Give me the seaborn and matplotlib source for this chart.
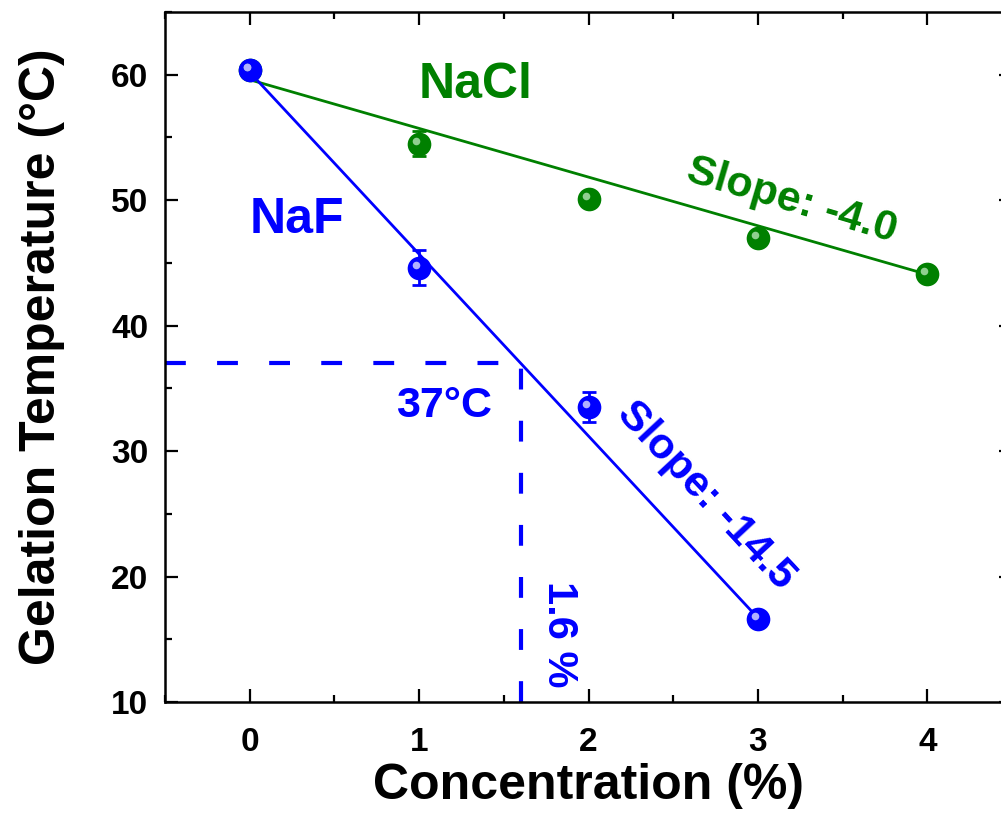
import numpy as np
import pandas as pd
import matplotlib
matplotlib.use("Agg")
import matplotlib.pyplot as plt
import matplotlib.transforms as mtransforms
from matplotlib.ticker import MultipleLocator
import seaborn as sns

# ---------------- data ----------------
naf_conc = [0, 1, 2, 3]
naf_temp = [60.4, 44.6, 33.5, 16.6]
naf_err = [0.3, 1.4, 1.2, 0.3]

nacl_conc = [0, 1, 2, 3, 4]
nacl_temp = [60.4, 54.5, 50.1, 47.0, 44.1]
nacl_err = [0.3, 1.0, 0.3, 0.3, 0.3]

naf_fit = (60.2, -14.5)     # intercept, slope
nacl_fit = (59.6, -3.88)

target_temp = 37.0
target_conc = 1.6

x_ticks = [0, 1, 2, 3, 4]
y_ticks = [10, 20, 30, 40, 50, 60]

BLUE = "#0000FF"
GREEN = "#008000"

# ---------------- style ----------------
sns.set_style("ticks")
plt.rcParams['font.family'] = ['Liberation Sans', 'DejaVu Sans']
plt.rcParams['font.weight'] = 'bold'
plt.rcParams['text.color'] = 'black'
plt.rcParams['axes.labelcolor'] = 'black'
plt.rcParams['xtick.color'] = 'black'
plt.rcParams['ytick.color'] = 'black'

fig = plt.figure(figsize=(10.01, 8.34), dpi=100)
ax = fig.add_axes([165/1001, 1 - 702/834, (1012 - 165)/1001, (702 - 12)/834])

# fit lines
for conc, fit, col in [(nacl_conc, nacl_fit, GREEN), (naf_conc, naf_fit, BLUE)]:
    xs = np.array([min(conc), max(conc)], dtype=float)
    df_fit = pd.DataFrame({"x": xs, "y": fit[0] + fit[1] * xs})
    sns.lineplot(data=df_fit, x="x", y="y", color=col, lw=2.0, ax=ax, zorder=2)

# dashed guide lines
sns.lineplot(x=[-0.5, target_conc], y=[target_temp, target_temp], color=BLUE,
             lw=3, ax=ax, zorder=1, dashes=False).lines[-1].set_dashes((5, 7.5))
sns.lineplot(x=[target_conc, target_conc], y=[10, target_temp], color=BLUE,
             lw=3, ax=ax, zorder=1, orient="y", dashes=False).lines[-1].set_dashes((5, 7.5))

# error bars + markers
hl_trans = mtransforms.offset_copy(ax.transData, fig=fig, x=-3, y=3, units='dots')
for conc, temp, err, col, light in [(nacl_conc, nacl_temp, nacl_err, GREEN, "#8fcf8f"),
                                   (naf_conc, naf_temp, naf_err, BLUE, "#b0b0ff")]:
    ax.errorbar(conc, temp, yerr=err, fmt='none', ecolor=col, elinewidth=2,
                capsize=5, capthick=2, zorder=3)
    sns.scatterplot(x=conc, y=temp, color=col, s=290, edgecolor=col, linewidth=0,
                    ax=ax, zorder=4)
    ax.scatter(conc, temp, s=30, color=light, linewidth=0, zorder=5, transform=hl_trans)

# annotations
ax.text(1.333, 59.2, "NaCl", color=GREEN, fontsize=36, fontweight='bold',
        ha='center', va='center')
ax.text(0.277, 48.45, "NaF", color=BLUE, fontsize=36, fontweight='bold',
        ha='center', va='center')
ax.text(3.20, 49.96, "Slope: -4.0", color=GREEN, fontsize=31, fontweight='bold',
        ha='center', va='center', rotation=-16.5)
ax.text(2.69, 26.45, "Slope: -14.5", color=BLUE, fontsize=31, fontweight='bold',
        ha='center', va='center', rotation=-47)
ax.text(1.145, 33.6, "37°C", color=BLUE, fontsize=31, fontweight='bold',
        ha='center', va='center')
ax.text(1.823, 15.4, "1.6 %", color=BLUE, fontsize=30, fontweight='bold',
        ha='center', va='center', rotation=-90)

# axes
ax.set_xlim(-0.5, 4.5)
ax.set_ylim(10, 65)
ax.set_xticks(x_ticks)
ax.set_yticks(y_ticks)
ax.xaxis.set_minor_locator(MultipleLocator(0.5))
ax.yaxis.set_minor_locator(MultipleLocator(5))
ax.tick_params(which='both', direction='in', top=True, right=True, width=1.6,
               color='black', labelcolor='black')
ax.tick_params(which='major', length=9.5)
ax.tick_params(which='minor', length=5)
ax.tick_params(axis='x', which='major', pad=18, labelsize=24)
ax.tick_params(axis='y', which='major', pad=12, labelsize=24)
for lab in ax.get_xticklabels() + ax.get_yticklabels():
    lab.set_fontweight('bold')
for sp in ax.spines.values():
    sp.set_linewidth(1.8)
    sp.set_color('black')

ax.set_xlabel("Concentration (%)", fontsize=36, fontweight='bold', color='black')
ax.set_ylabel("Gelation Temperature (°C)", fontsize=36, fontweight='bold', color='black')
ax.xaxis.set_label_coords(0.5, -0.088)
ax.yaxis.set_label_coords(-0.118, 0.5)

fig.savefig("out.png", dpi=100)
